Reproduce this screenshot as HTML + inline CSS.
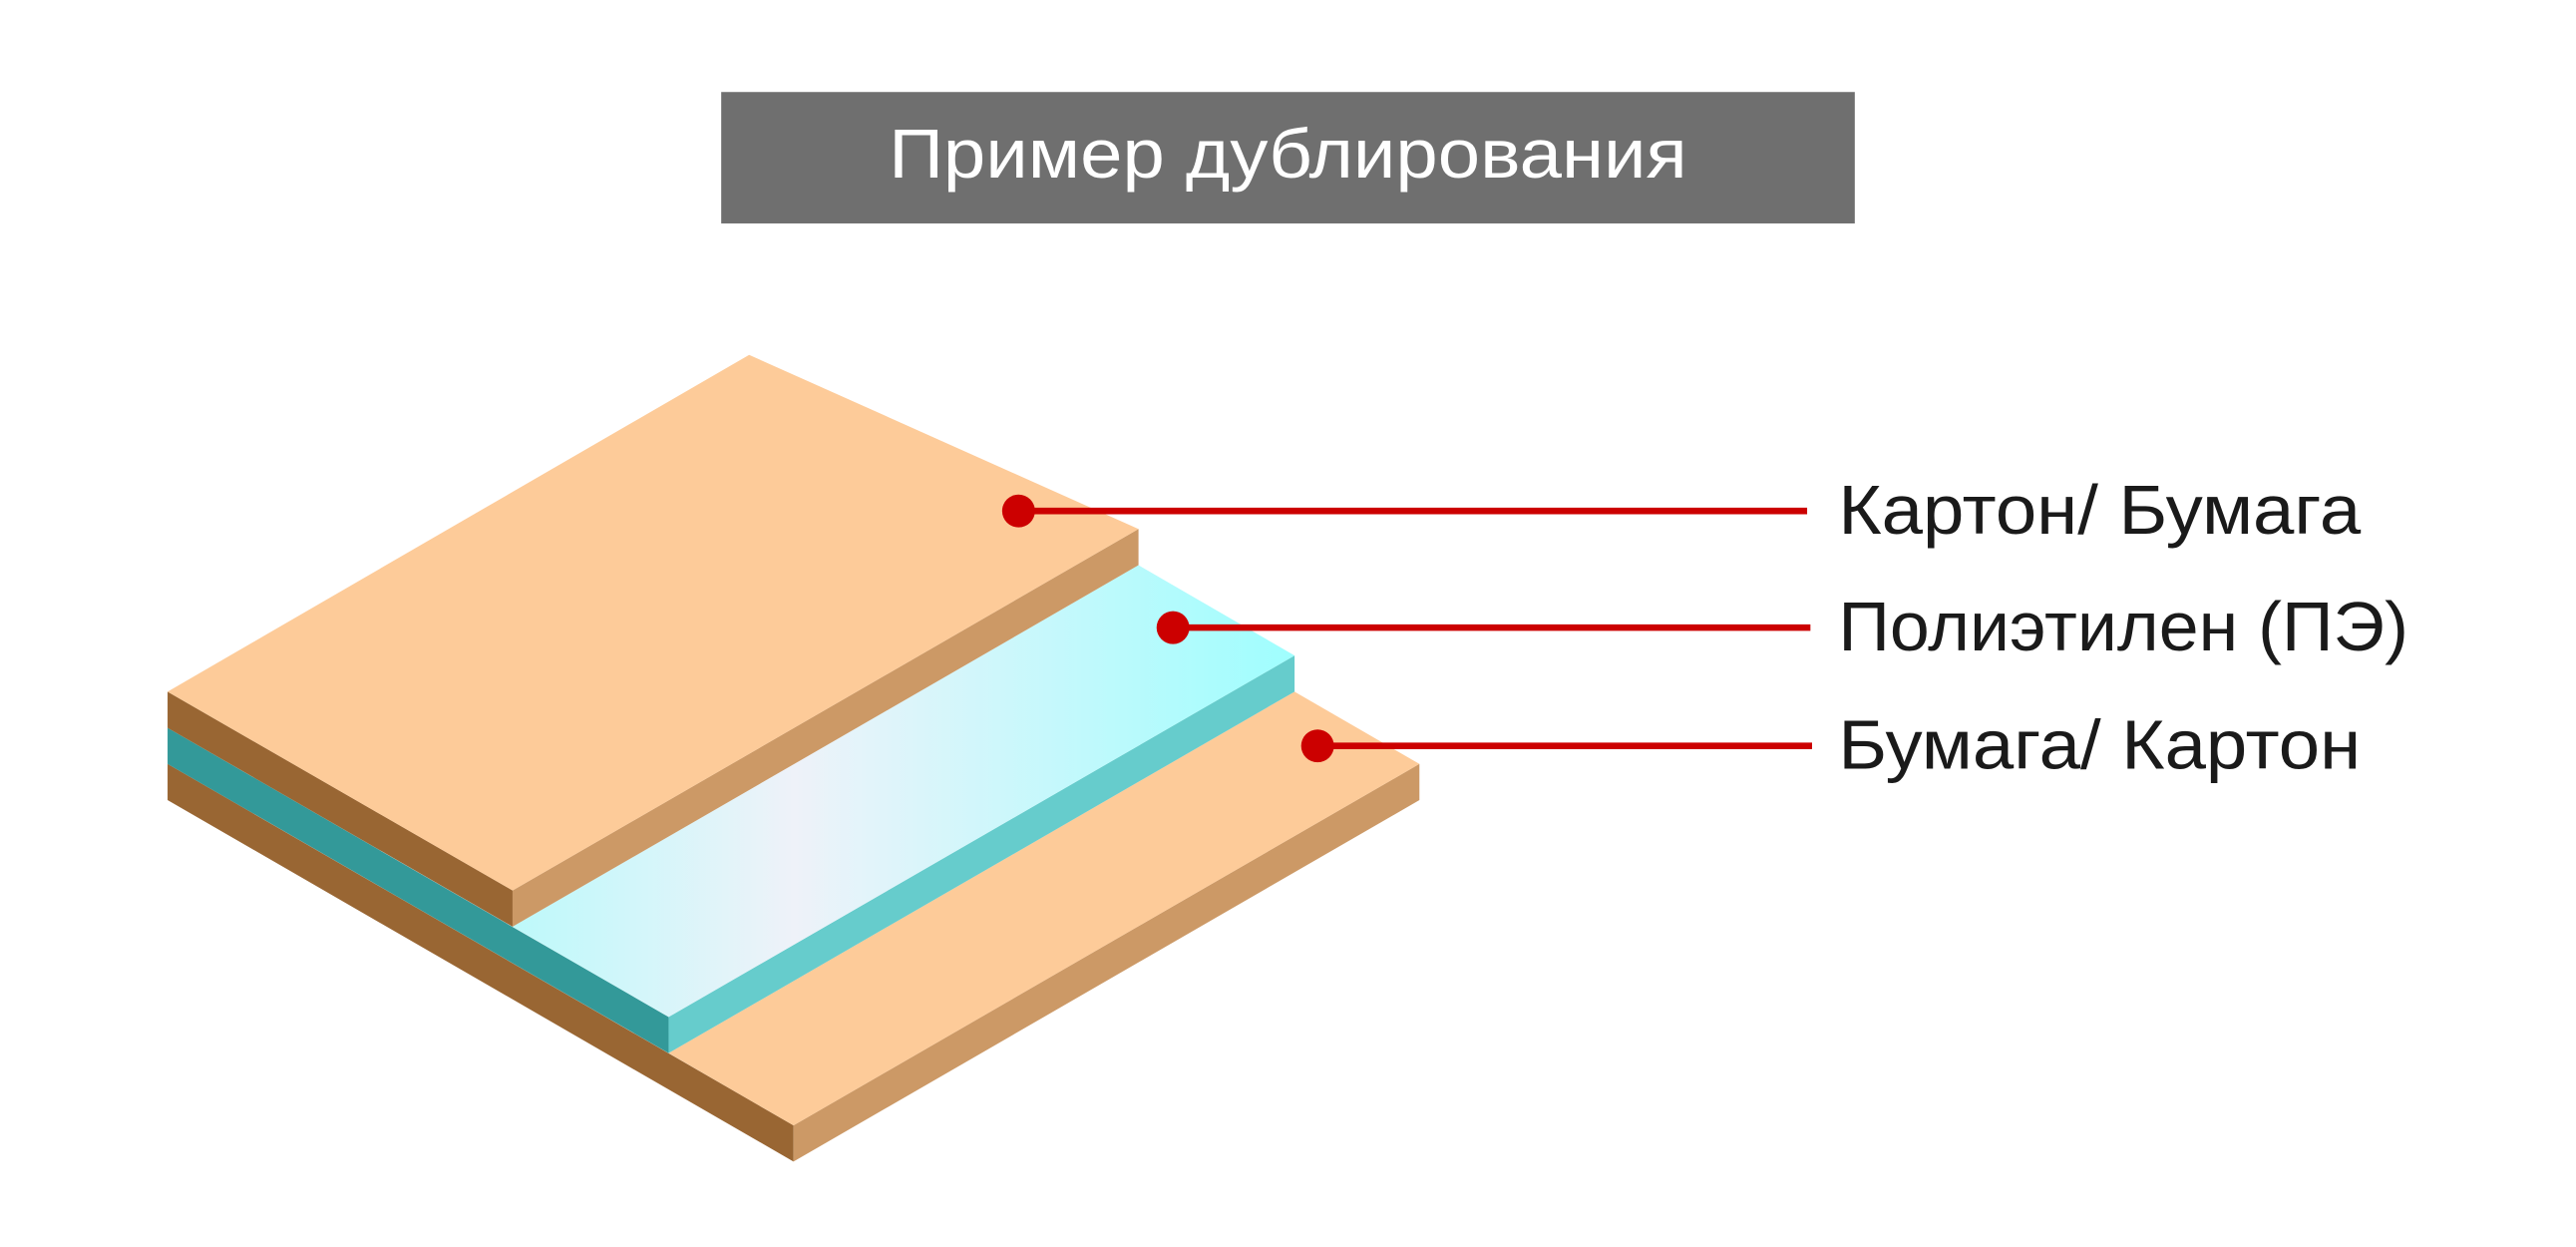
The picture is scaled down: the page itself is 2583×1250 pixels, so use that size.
<!DOCTYPE html>
<html><head><meta charset="utf-8"><style>
html,body{margin:0;padding:0;background:#fff;}
svg{display:block;}
</style></head><body>
<svg width="2583" height="1250" viewBox="0 0 1568 759" preserveAspectRatio="none" xmlns="http://www.w3.org/2000/svg">
<defs>
<linearGradient id="pe" x1="312" y1="0" x2="788" y2="0" gradientUnits="userSpaceOnUse">
<stop offset="0" stop-color="#bdf9fa"/>
<stop offset="0.36" stop-color="#eef2f9"/>
<stop offset="1" stop-color="#9ffefe"/>
</linearGradient>
</defs>
<rect x="439" y="56" width="690" height="80" fill="#6f6f6f"/>
<text x="784" y="108" text-anchor="middle" font-family="Liberation Sans, sans-serif" font-size="42" fill="#fff" textLength="486" lengthAdjust="spacingAndGlyphs">Пример дублирования</text>

<!-- bottom board -->
<polygon points="102,465 483,685 483,707 102,487" fill="#996633"/>
<polygon points="483,685 864,465 864,487 483,707" fill="#cc9966"/>
<polygon points="407,641 788,421 864,465 483,685" fill="#fdcb99"/>
<!-- PE -->
<polygon points="102,443 407,619 407,641 102,465" fill="#339999"/>
<polygon points="407,619 788,399 788,421 407,641" fill="#66cccc"/>
<polygon points="312,564 693,344 788,399 407,619" fill="url(#pe)"/>
<!-- top board -->
<polygon points="102,421 312,542 312,564 102,443" fill="#996633"/>
<polygon points="312,542 693,322 693,344 312,564" fill="#cc9966"/>
<polygon points="102,421 456,216 693,322 312,542" fill="#fdcb99"/>

<g fill="#cc0000" stroke="#cc0000">
<line x1="620" y1="311" x2="1100" y2="311" stroke-width="4"/>
<circle cx="620" cy="311" r="10" stroke="none"/>
<line x1="714" y1="382" x2="1102" y2="382" stroke-width="4"/>
<circle cx="714" cy="382" r="10" stroke="none"/>
<line x1="802" y1="454" x2="1103" y2="454" stroke-width="4"/>
<circle cx="802" cy="454" r="10" stroke="none"/>
</g>
<g font-family="Liberation Sans, sans-serif" font-size="42" fill="#1a1a1a">
<text x="1119" y="325" textLength="318" lengthAdjust="spacingAndGlyphs">Картон/ Бумага</text>
<text x="1119" y="396" textLength="347" lengthAdjust="spacingAndGlyphs">Полиэтилен (ПЭ)</text>
<text x="1119" y="468" textLength="318" lengthAdjust="spacingAndGlyphs">Бумага/ Картон</text>
</g>
</svg>
</body></html>
